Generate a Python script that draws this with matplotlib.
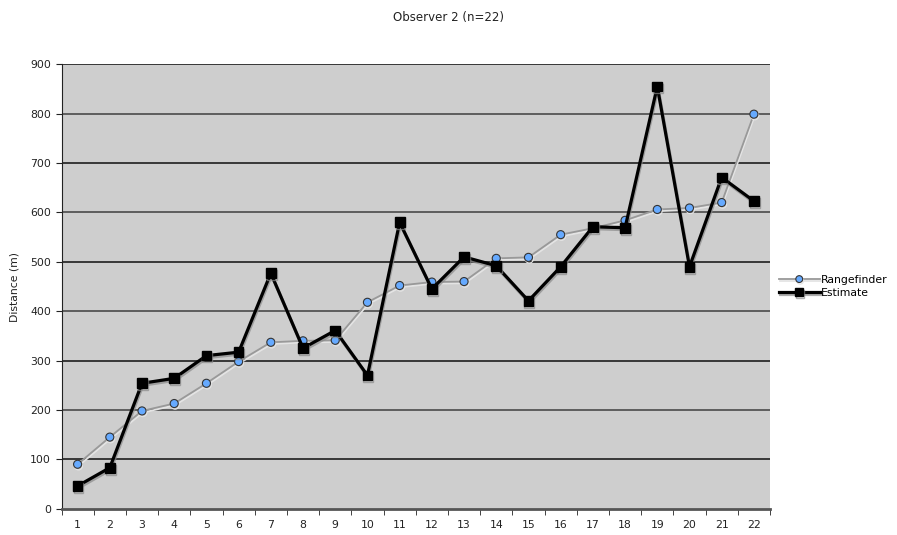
import numpy as np
import matplotlib
matplotlib.use('Agg')
import matplotlib.pyplot as plt
import matplotlib.patheffects as pe

# Datos de observador 2
muestras = list(range(1, 23))
telemetro = [90, 145, 198, 213, 254, 298, 337, 340, 341, 418, 452, 459,
             460, 507, 509, 555, 568, 584, 606, 609, 620, 799]
estimacion = [46, 83, 254, 264, 310, 317, 477, 325, 361, 270, 580, 445,
              510, 492, 421, 490, 571, 569, 855, 490, 671, 623]

plt.rcParams['font.family'] = 'DejaVu Sans'
plt.rcParams['font.size'] = 7.8

fig = plt.figure(figsize=(8.97, 5.35), dpi=100)
ax = fig.add_axes([61.5 / 897, 1 - 508.7 / 535, (770 - 61.5) / 897, (508.7 - 64.3) / 535])
ax.set_facecolor('#cecece')

# Líneas de cuadrícula horizontales
for y in range(100, 901, 100):
    ax.axhline(y, color='#1e1e1e' if y % 200 else '#4a4a4a', lw=1.2, zorder=1)

sombra_gris = [pe.SimpleLineShadow(offset=(0.6, -1.2), shadow_color='#e4e4e4', alpha=1), pe.Normal()]
sombra_negra = [pe.SimpleLineShadow(offset=(0.6, -1.4), shadow_color='#8a8a8a', alpha=0.7), pe.Normal()]

ax.plot(muestras, telemetro, color='#999999', lw=1.3, marker='o', ms=5.8,
        mfc='#66aaff', mec='#333333', mew=0.8, label='Rangefinder',
        path_effects=sombra_gris, zorder=3)
ax.plot(muestras, estimacion, color='black', lw=2.3, marker='s', ms=7,
        mfc='black', mec='black', label='Estimate',
        path_effects=sombra_negra, zorder=4)

ax.set_xlim(0.5, 22.5)
ax.set_ylim(0, 900)
ax.set_yticks(range(0, 901, 100))
ax.set_xticks(muestras)
ax.set_xticks(np.arange(0.5, 23, 1), minor=True)
ax.tick_params(axis='x', which='major', length=0, pad=8, colors='#222222')
ax.tick_params(axis='x', which='minor', length=4, direction='out', color='#222222')
ax.tick_params(axis='y', length=4, direction='out', color='#222222', labelcolor='#222222')

for lado in ['top', 'right']:
    ax.spines[lado].set_visible(False)
ax.spines['left'].set_color('#222222')
ax.spines['bottom'].set_color('#555555')
ax.spines['bottom'].set_linewidth(2)

ax.set_ylabel('Distance (m)', color='#222222', labelpad=8)
fig.text(0.5, 1 - 18 / 535, 'Observer 2 (n=22)', ha='center', va='center',
         fontsize=8.5, color='#222222')

ax.legend(loc='center left', bbox_to_anchor=(1.0, 0.5), frameon=False,
          handlelength=3.8, handletextpad=0.05, borderaxespad=0.4,
          labelspacing=0.3, markerscale=0.85)

fig.savefig('out.png', dpi=100, facecolor='white')
